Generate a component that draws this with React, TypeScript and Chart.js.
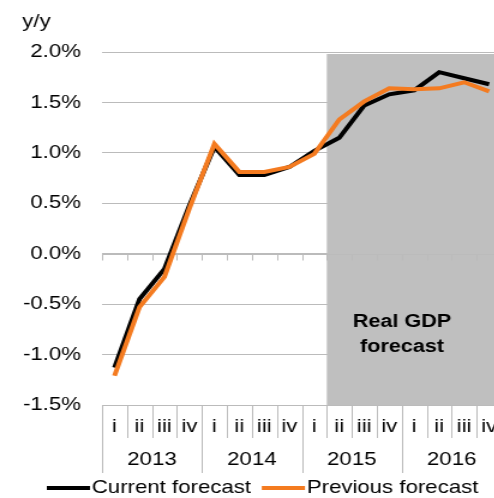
import React, { useEffect, useRef } from "react";
import { Chart, registerables } from "chart.js";

Chart.register(...registerables);

const quarters = ["i", "ii", "iii", "iv", "i", "ii", "iii", "iv", "i", "ii", "iii", "iv", "i", "ii", "iii", "iv"];
const years = ["2013", "2014", "2015", "2016"];
const currentForecast = [-1.13, -0.45, -0.15, 0.48, 1.06, 0.78, 0.78, 0.86, 1.02, 1.15, 1.47, 1.58, 1.62, 1.8, 1.74, 1.68];
const previousForecast = [-1.21, -0.53, -0.23, 0.45, 1.09, 0.81, 0.81, 0.86, 0.99, 1.33, 1.51, 1.64, 1.63, 1.64, 1.7, 1.61];
const forecastStartIndex = 9;
const yMin = -1.5;
const yMax = 2.0;
const yStep = 0.5;
const seriesNames = ["Current forecast", "Previous forecast"];
const seriesColors = ["#000000", "#F47B20"];

const W = 418;
const H = 498;
const SX = 1.2;
const FONT = "'Liberation Sans', Arial, sans-serif";
const GRID = "#BBBBBB";

const overlayPlugin = {
  id: "overlay",
  beforeDatasetsDraw(chart: any) {
    const { ctx, chartArea, scales } = chart;
    const { left, right, top, bottom } = chartArea;
    const x = scales.x;
    const y = scales.y;
    const cw = (right - left) / quarters.length;
    ctx.save();
    // forecast shading
    const xs = x.getPixelForValue(forecastStartIndex) - cw / 2;
    ctx.fillStyle = "#BFBFBF";
    ctx.fillRect(xs, top + 2, right - xs, bottom - top - 2);
    // zero axis with ticks
    const y0 = Math.round(y.getPixelForValue(0)) + 0.5;
    ctx.strokeStyle = GRID;
    ctx.lineWidth = 1;
    ctx.beginPath();
    ctx.moveTo(left, y0);
    ctx.lineTo(right, y0);
    for (let i = 0; i <= quarters.length; i++) {
      const bx = Math.round(left + i * cw) + 0.5;
      ctx.moveTo(bx, y0);
      ctx.lineTo(bx, y0 + 6);
    }
    // bottom line
    const yb = Math.round(bottom) + 0.5;
    ctx.moveTo(left, yb);
    ctx.lineTo(right, yb);
    ctx.stroke();
    ctx.restore();
  },
  afterDraw(chart: any) {
    const { ctx, chartArea, scales } = chart;
    const { left, right, bottom } = chartArea;
    const x = scales.x;
    const cw = (right - left) / quarters.length;
    ctx.save();
    // category separators
    ctx.strokeStyle = GRID;
    ctx.lineWidth = 1;
    ctx.beginPath();
    for (let i = 0; i <= quarters.length; i++) {
      const bx = Math.round(left + i * cw) + 0.5;
      const len = i % 4 === 0 ? 68 : 33;
      ctx.moveTo(bx, bottom);
      ctx.lineTo(bx, bottom + len);
    }
    ctx.stroke();

    ctx.fillStyle = "#000";
    ctx.font = `18.5px ${FONT}`;
    ctx.textAlign = "center";
    ctx.textBaseline = "middle";
    quarters.forEach((q, i) => {
      ctx.fillText(q, x.getPixelForValue(i), bottom + 22);
    });
    years.forEach((yr, j) => {
      const c = (x.getPixelForValue(j * 4) + x.getPixelForValue(j * 4 + 3)) / 2;
      ctx.fillText(yr, c, bottom + 55);
    });

    // y/y label
    ctx.textAlign = "left";
    ctx.textBaseline = "alphabetic";
    ctx.fillText("y/y", 18.5, 27);

    // forecast annotation
    ctx.font = `bold 18px ${FONT}`;
    ctx.textAlign = "center";
    ctx.textBaseline = "middle";
    ctx.fillText("Real GDP", 335, 322);
    ctx.fillText("forecast", 335, 347);

    // legend
    ctx.font = `18.5px ${FONT}`;
    ctx.textAlign = "left";
    const ly = 488;
    let lx = 39;
    seriesNames.forEach((name, i) => {
      ctx.strokeStyle = seriesColors[i];
      ctx.lineWidth = 4;
      ctx.beginPath();
      ctx.moveTo(lx, ly);
      ctx.lineTo(lx + 36, ly);
      ctx.stroke();
      ctx.fillStyle = "#000";
      ctx.fillText(name, lx + 37.5, ly);
      lx += 37.5 + ctx.measureText(name).width + 9;
    });
    ctx.restore();
  },
};

export default function App() {
  const ref = useRef<HTMLCanvasElement>(null);
  useEffect(() => {
    if (!ref.current) return;
    const chart = new Chart(ref.current, {
      type: "line",
      data: {
        labels: quarters.map((q, i) => `${years[Math.floor(i / 4)]} ${q}`),
        datasets: [
          {
            label: seriesNames[1],
            data: previousForecast,
            borderColor: seriesColors[1],
            backgroundColor: seriesColors[1],
            borderWidth: 4,
            pointRadius: 0,
            tension: 0,
          },
          {
            label: seriesNames[0],
            data: currentForecast,
            borderColor: seriesColors[0],
            backgroundColor: seriesColors[0],
            borderWidth: 4,
            pointRadius: 0,
            tension: 0,
          },
        ],
      },
      options: {
        responsive: false,
        devicePixelRatio: 1,
        animation: false,
        layout: { padding: { top: 52, bottom: 93, left: 0, right: 0 } },
        plugins: { legend: { display: false }, tooltip: { enabled: false }, title: { display: false } },
        scales: {
          x: { type: "category", display: false, offset: true },
          y: {
            min: yMin,
            max: yMax,
            afterFit: (s: any) => {
              s.width = 85;
            },
            border: { display: false },
            grid: { color: GRID, lineWidth: 1, drawTicks: false },
            ticks: {
              stepSize: yStep,
              padding: 17.5,
              color: "#000",
              font: { family: FONT, size: 18.5 },
              callback: (v: any) => `${Number(v).toFixed(1)}%`,
            },
          },
        },
      },
      plugins: [overlayPlugin],
    });
    return () => chart.destroy();
  }, []);
  return (
    <div style={{ position: "fixed", left: 0, top: 0, width: 494, height: 498, overflow: "hidden", background: "#fff" }}>
      <div style={{ width: W, height: H, transform: `scaleX(${SX})`, transformOrigin: "0 0" }}>
        <canvas ref={ref} width={W} height={H} style={{ display: "block", width: W, height: H }} />
      </div>
    </div>
  );
}
